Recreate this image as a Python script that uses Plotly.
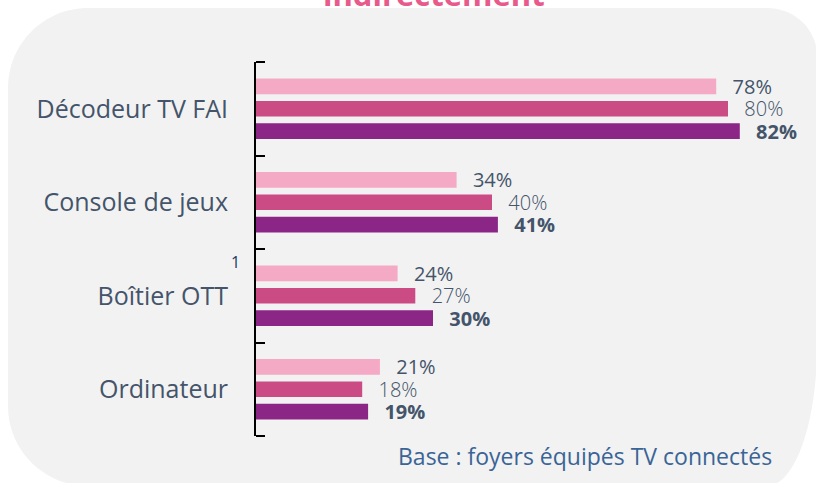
import plotly.graph_objects as go

# ---------------- data ----------------
categories = ["Décodeur TV FAI", "Console de jeux", "Boîtier OTT", "Ordinateur"]
series_names = ["Vague 1", "Vague 2", "Vague 3"]
values_s1 = [78, 34, 24, 21]
values_s2 = [80, 40, 27, 18]
values_s3 = [82, 41, 30, 19]
title_text = "indirectement"
base_text = "Base : foyers équipés TV connectés"
footnote_mark = "1"

# ---------------- layout geometry ----------------
W, H = 816, 483
L, T, B, RM = 256, 62, 47, 20
PW = W - L - RM
PH = H - T - B
PX_PER_UNIT = 5.9
XMAX = PW / PX_PER_UNIT


def to_paper(px, py):
    return ((px - L) / PW, (H - B - py) / PH)


def rounded_path(left, top, right, bottom, corners):
    k = 0.5523
    tl, tr, br, bl = corners["tl"], corners["tr"], corners["br"], corners["bl"]

    def P(x, y):
        a, b = to_paper(x, y)
        return f"{a:.5f},{b:.5f}"

    d = f"M {P(left + tl[0], top)} "
    d += f"L {P(right - tr[0], top)} "
    d += (f"C {P(right - tr[0] + k * tr[0], top)} {P(right, top + tr[1] - k * tr[1])} "
          f"{P(right, top + tr[1])} ")
    d += f"L {P(right, bottom - br[1])} "
    d += (f"C {P(right, bottom - br[1] + k * br[1])} {P(right - br[0] + k * br[0], bottom)} "
          f"{P(right - br[0], bottom)} ")
    d += f"L {P(left + bl[0], bottom)} "
    d += (f"C {P(left + bl[0] - k * bl[0], bottom)} {P(left, bottom - bl[1] + k * bl[1])} "
          f"{P(left, bottom - bl[1])} ")
    d += f"L {P(left, top + tl[1])} "
    d += (f"C {P(left, top + tl[1] - k * tl[1])} {P(left + tl[0] - k * tl[0], top)} "
          f"{P(left + tl[0], top)} Z")
    return d


bar_colors = ["#F4A9C4", "#CB4B85", "#8B2586"]
label_colors = ["#44546A", "#44546A", "#44546A"]
label_weights = ["normal", 300, "bold"]
all_values = [values_s1, values_s2, values_s3]

fig = go.Figure()
for name, vals, col, lcol, lw in zip(series_names, all_values, bar_colors, label_colors, label_weights):
    fig.add_trace(go.Bar(
        name=name,
        y=categories,
        x=vals,
        orientation="h",
        marker=dict(color=col, line=dict(width=0)),
        texttemplate="\u2002\u2009%{x}%",
        textposition="outside",
        constraintext="none",
        cliponaxis=False,
        textfont=dict(family="Open Sans", size=20, color=lcol, weight=lw),
        hoverinfo="skip",
    ))

bg_path = rounded_path(8, 8, 817, 486, {
    "tl": (80, 80), "tr": (50, 48), "br": (50, 140), "bl": (80, 80)
})

tick_len_paper = 9 / PW
end_ticks = [dict(type="line", xref="paper", yref="paper", x0=0, x1=tick_len_paper,
                  y0=yy, y1=yy, line=dict(color="black", width=2), layer="above")
             for yy in (0, 1)]

fig.update_layout(
    width=W, height=H,
    margin=dict(l=L, r=RM, t=T, b=B, pad=0),
    paper_bgcolor="white",
    plot_bgcolor="rgba(0,0,0,0)",
    barmode="group",
    bargap=0.28,
    bargroupgap=0.30,
    showlegend=False,
    font=dict(family="Open Sans", color="#44546A"),
    xaxis=dict(range=[0, XMAX], visible=False, showgrid=False, zeroline=False, fixedrange=True),
    yaxis=dict(
        categoryorder="array", categoryarray=categories, autorange="reversed",
        showline=True, linecolor="black", linewidth=2,
        ticks="inside", tickson="boundaries", ticklen=9, tickwidth=2, tickcolor="black",
        tickfont=dict(family="Open Sans", size=25, color="#44546A"),
        ticklabelstandoff=21,
        showgrid=False, zeroline=False, fixedrange=True,
    ),
    shapes=[dict(type="path", path=bg_path, xref="paper", yref="paper",
                 fillcolor="#F2F2F2", line=dict(width=0), layer="below")] + end_ticks,
)

tx, ty = to_paper(434, 17)
fig.add_annotation(text=f"<b>{title_text}</b>", xref="paper", yref="paper",
                   x=tx, y=ty, xanchor="center", yanchor="bottom", showarrow=False,
                   font=dict(family="Open Sans", size=31, color="#E85A8C"))
bx, by = to_paper(774, 456)
fig.add_annotation(text=base_text, xref="paper", yref="paper",
                   x=bx, y=by, xanchor="right", yanchor="middle", showarrow=False,
                   font=dict(family="Open Sans", size=23, color="#3A6496"))
fx, fy = to_paper(235, 262)
fig.add_annotation(text=footnote_mark, xref="paper", yref="paper",
                   x=fx, y=fy, xanchor="center", yanchor="middle", showarrow=False,
                   font=dict(family="Open Sans", size=16, color="#1F3864"))

fig.write_html("out.html", config={"displayModeBar": False},
               post_script="document.body.style.margin='0';")
